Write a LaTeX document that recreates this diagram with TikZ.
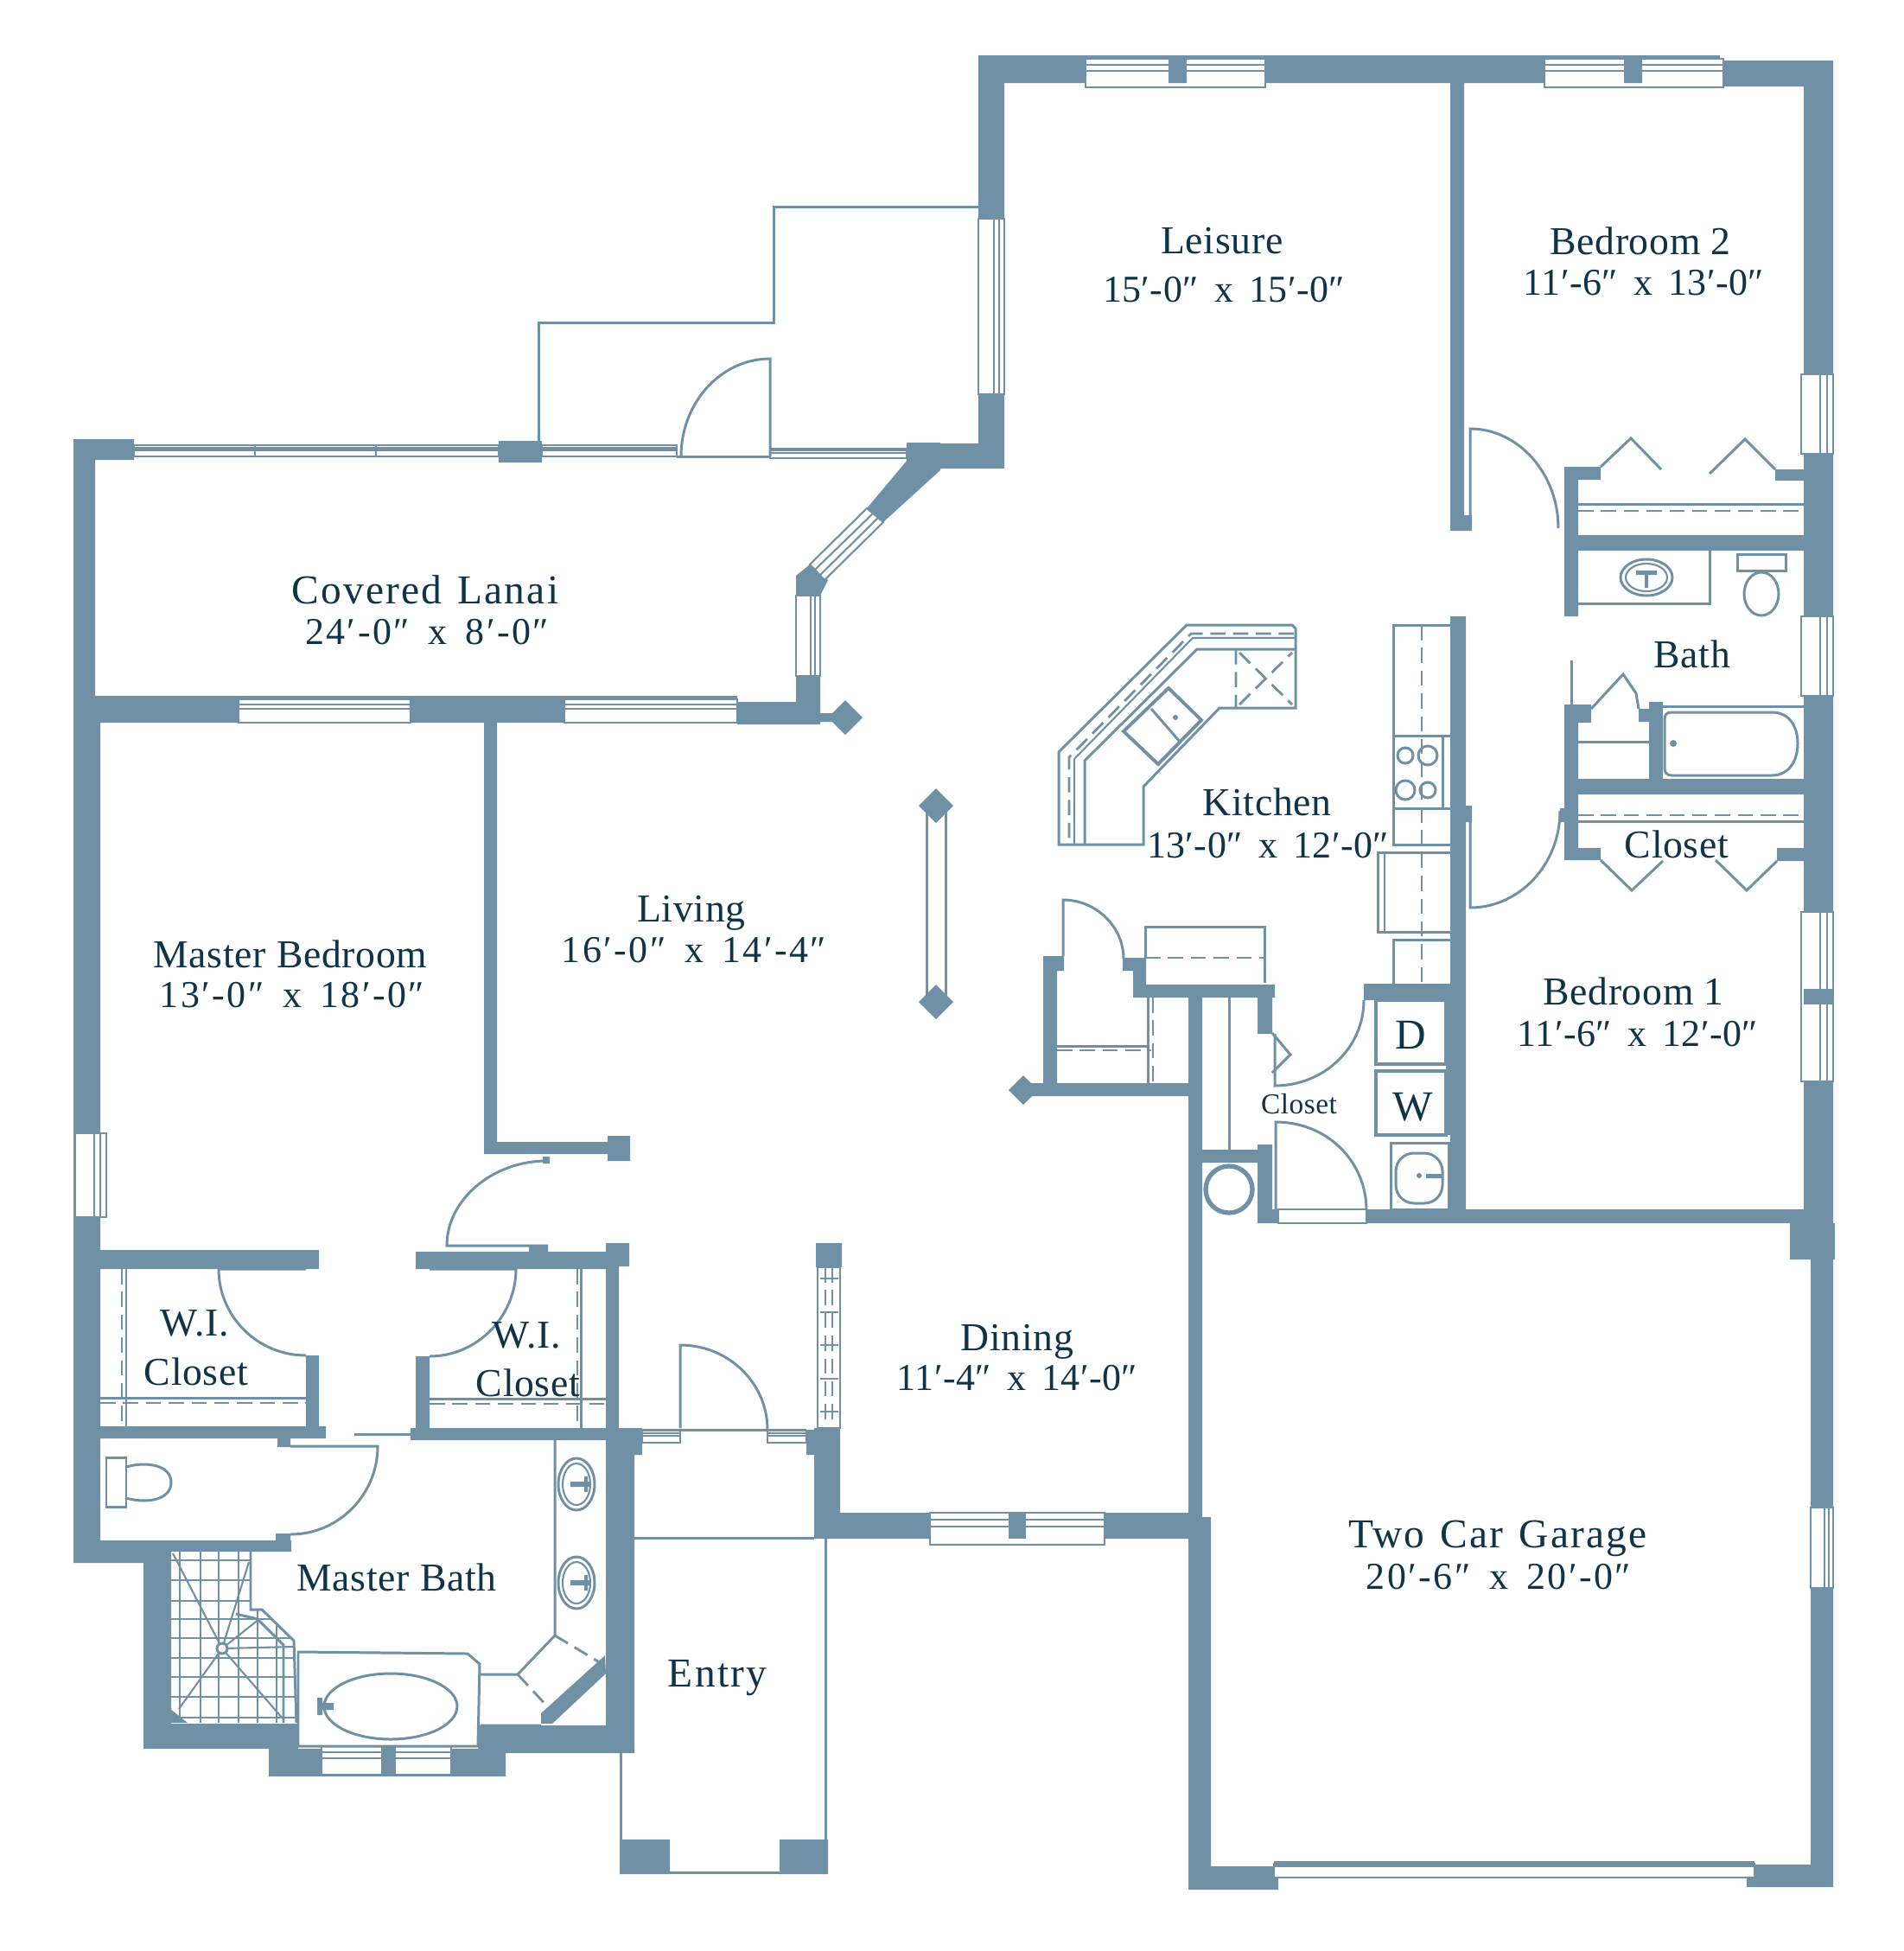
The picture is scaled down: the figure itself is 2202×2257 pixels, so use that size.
\documentclass[tikz,border=0pt]{standalone}
\usepackage{fontspec}
\usepackage{tikz}
\setmainfont{Liberation Serif}
\newfontfamily\roomfont[LetterSpace=1.5]{Liberation Serif}
\newfontfamily\widefont[LetterSpace=4.5,WordSpace=1.3]{Liberation Serif}
\newfontfamily\dimfont[LetterSpace=1,WordSpace=1.6]{Liberation Serif}
\newfontfamily\dimwidefont[LetterSpace=5.5,WordSpace=1.6]{Liberation Serif}
\definecolor{wallblue}{HTML}{7091A5}
\definecolor{textnavy}{HTML}{0F3348}
\tikzset{
  wall/.style={fill=wallblue},
  thinline/.style={draw=wallblue,line width=0.85pt},
  hairline/.style={draw=wallblue,line width=0.6pt},
  dashline/.style={draw=wallblue,line width=0.8pt,dash pattern=on 5pt off 2.5pt},
  winline/.style={draw=wallblue,line width=0.6pt,fill=white},
  roomlabel/.style={text=textnavy,inner sep=0pt,font=\fontsize{13}{15}\roomfont},
  widelabel/.style={text=textnavy,inner sep=0pt,font=\fontsize{13.5}{15}\widefont},
  dimlabel/.style={text=textnavy,inner sep=0pt,font=\fontsize{12.5}{15}\dimfont},
  dimwide/.style={text=textnavy,inner sep=0pt,font=\fontsize{12.5}{15}\dimwidefont}
}
\newcommand{\winh}[4]{\draw[winline] (#1,#3) rectangle (#2,#4);
  \draw[hairline] (#1,{#3+0.22*(#4-#3)}) -- (#2,{#3+0.22*(#4-#3)});
  \draw[hairline] (#1,{#3+0.42*(#4-#3)}) -- (#2,{#3+0.42*(#4-#3)});}
\newcommand{\winv}[4]{\draw[winline] (#1,#3) rectangle (#2,#4);
  \draw[hairline] ({#1+0.6*(#2-#1)},#3) -- ({#1+0.6*(#2-#1)},#4);
  \draw[hairline] ({#1+0.8*(#2-#1)},#3) -- ({#1+0.8*(#2-#1)},#4);}
\newcommand{\postmark}[3]{\fill[wall] (#1,#2) ++(-#3,0) -- ++(#3,-#3) -- ++(#3,#3) -- ++(-#3,#3) -- cycle;}

\begin{document}
\begin{tikzpicture}[x=0.01cm,y=-0.01cm]
  \useasboundingbox[fill=white] (0,0) rectangle (2202,2257);

  \fill[wall] (1132,64) rectangle (1990,96) (1990,70) rectangle (2121,100)
    (1132,64) rectangle (1162,542) (1049,513) rectangle (1162,542)
    (2087,70) rectangle (2121,1422) (2071,1415) rectangle (2123,1457)
    (2095,1457) rectangle (2121,2183) (2021,2157) rectangle (2121,2183)
    (1375,2159) rectangle (1479,2186) (1375,1755) rectangle (1401,2186)
    (1678,96) rectangle (1694,614) (1694,596) rectangle (1703,614)
    (1810,540) rectangle (1826,713) (1810,540) rectangle (1852,555)
    (2054,543) rectangle (2087,556) (1810,619) rectangle (2087,637)
    (1810,815) rectangle (1826,994) (1810,815) rectangle (1841,836)
    (1896,820) rectangle (1908,835) (1908,812) rectangle (1924,902)
    (1810,901) rectangle (2087,919) (1810,981) rectangle (1852,995)
    (2056,981) rectangle (2087,996) (1805,935) rectangle (1826,951)
    (1678,713) rectangle (1696,1400) (1673,1157) rectangle (1696,1313)
    (1694,932) rectangle (1703,951)
    (1455,1399) rectangle (2121,1415) (1578,1138) rectangle (1696,1157)
    (1311,1139) rectangle (1475,1154) (1455,1139) rectangle (1472,1196)
    (1375,1154) rectangle (1391,1755) (1391,1330) rectangle (1472,1345)
    (1455,1324) rectangle (1472,1415)
    (1207,1106) rectangle (1223,1254) (1207,1106) rectangle (1231,1123)
    (1299,1108) rectangle (1326,1123) (1311,1123) rectangle (1326,1154)
    (1184,1253) rectangle (1375,1268)
    (942,1750) rectangle (1391,1780) (942,1652) rectangle (972,1780)
    (944,1438) rectangle (974,1466)
    (85,508) rectangle (155,532) (85,508) rectangle (110,805)
    (85,805) rectangle (116,1808) (577,510) rectangle (627,535)
    (1049,512) rectangle (1088,544)
    (85,805) rectangle (853,836) (853,812) rectangle (949,838)
    (921,782) rectangle (949,838) (949,825) rectangle (968,835)
    (560,836) rectangle (575,1335) (560,1321) rectangle (705,1335)
    (703,1314) rectangle (729,1343) (628,1338) rectangle (636,1346)
    (116,1446) rectangle (369,1468) (354,1568) rectangle (369,1650)
    (116,1650) rectangle (377,1664) (321,1664) rectangle (336,1674)
    (319,1774) rectangle (336,1795) (86,1782) rectangle (337,1795)
    (86,1782) rectangle (166,1808)
    (166,1795) rectangle (198,2023) (166,1994) rectangle (345,2023)
    (311,2023) rectangle (585,2055) (553,1996) rectangle (734,2028)
    (701,1652) rectangle (734,2028) (701,1464) rectangle (716,1653)
    (701,1438) rectangle (728,1465) (475,1652) rectangle (743,1666)
    (716,1652) rectangle (743,1683) (481,1569) rectangle (497,1652)
    (481,1448) rectangle (703,1468) (612,1441) rectangle (634,1450)
    (933,1654) rectangle (972,1683)
    (717,2128) rectangle (775,2168) (902,2128) rectangle (958,2168);
  \fill[wall] (1050,532) -- (1088,544) -- (1022,604) -- (1003,588) -- cycle;
  \fill[wall] (937,653) -- (958,671) -- (949,689) -- (921,689) -- (921,666) -- cycle;
  \fill[wall] (626,1982) -- (700,1915) -- (701,1936) -- (639,1994) -- (626,1994) -- cycle;
  \postmark{978}{830}{20}
  \draw[thinline] (1072,940) rectangle (1094,1150);
  \postmark{1083}{932}{20}
  \postmark{1083}{1159}{20}
  \postmark{1184}{1261}{17}

  \winh{1256}{1464}{68}{101}
  \winh{1787}{1994}{68}{101}
  \fill[wall] (1352,65) rectangle (1373,96) (1879,65) rectangle (1900,96);
  \winv{1132}{1162}{253}{456}
  \winv{2084}{2121}{433}{525}
  \winv{2084}{2121}{713}{805}
  \winv{2084}{2121}{1055}{1251}
  \fill[wall] (2087,1144) rectangle (2121,1162);
  \winv{2095}{2121}{1744}{1837}
  \winv{87}{123}{1311}{1408}
  \winh{155}{577}{515}{528}
  \draw[hairline] (295,515) -- (295,528) (435,515) -- (435,528);
  \winh{627}{783}{515}{528}
  \winh{891}{1049}{519}{530}
  \draw[winline] (1003,588) -- (1022,604) -- (954,671) -- (937,653) -- cycle;
  \draw[hairline] (1010,594) -- (943,659) (1016,599) -- (949,665);
  \winv{921}{949}{689}{782}
  \winh{276}{475}{809}{836}
  \winh{653}{853}{809}{836}
  \winh{372}{522}{2020}{2053}
  \fill[wall] (441,2020) rectangle (458,2055);
  \winh{743}{787}{1655}{1669}
  \winh{888}{933}{1655}{1669}
  \winh{1076}{1278}{1750}{1787}
  \fill[wall] (1167,1750) rectangle (1187,1780);
  \draw[winline] (1474,2156) rectangle (2030,2172);
  \fill[wall] (1474,2153) rectangle (2030,2160);
  \draw[winline] (1479,1399) rectangle (1581,1415);

  \draw[thinline] (623,510) -- (623,373) -- (895,373) -- (895,239) -- (1132,239);
  \draw[thinline] (783,528) -- (891,528);
  \draw[thinline] (891,528) -- (891,415) .. controls (834,415) and (788,466) .. (788,528);
  \draw[thinline] (1701,596) -- (1701,496) .. controls (1757,496) and (1803,548) .. (1803,611);
  \draw[thinline] (1701,951) -- (1701,1050) .. controls (1758,1050) and (1805,1000) .. (1805,938);
  \draw[thinline] (634,1441) -- (517,1441) .. controls (517,1387) and (571,1343) .. (632,1343);
  \draw[thinline] (354,1468) -- (253,1468) .. controls (253,1523) and (298,1568) .. (354,1568);
  \draw[thinline] (497,1468) -- (597,1468) .. controls (597,1523) and (552,1569) .. (497,1569);
  \draw[thinline] (336,1673) -- (437,1673) .. controls (437,1729) and (392,1775) .. (336,1775);
  \draw[thinline] (787,1652) -- (787,1556) .. controls (843,1556) and (888,1600) .. (888,1654);
  \draw[thinline] (743,1654) -- (933,1654);
  \draw[thinline] (1230,1106) -- (1230,1041) .. controls (1268,1041) and (1300,1072) .. (1300,1109);
  \draw[thinline] (1475,1196) -- (1475,1256) .. controls (1532,1256) and (1578,1212) .. (1578,1157);
  \draw[thinline] (1476,1402) -- (1476,1298) .. controls (1536,1298) and (1581,1344) .. (1581,1400);
  \draw[thinline] (1472,1195) -- (1493,1220) -- (1472,1241);
  \draw[thinline] (410,1659) -- (475,1659);

  \draw[thinline] (1852,540) -- (1887,507) -- (1922,543);
  \draw[thinline] (1978,548) -- (2019,508) -- (2054,543);
  \draw[thinline] (1852,995) -- (1888,1030) -- (1924,996);
  \draw[thinline] (1985,995) -- (2021,1030) -- (2056,996);
  \draw[thinline] (1841,820) -- (1878,780) -- (1893,802) -- (1896,820);
  \draw[thinline] (1818,764) -- (1818,815);
  \draw[thinline] (1826,583) -- (2087,583);
  \draw[dashline] (1826,591) -- (2087,591);
  \draw[thinline] (1826,950) -- (2087,950);
  \draw[dashline] (1826,943) -- (2087,943);
  \draw[thinline] (1826,858) -- (1908,858);

  \draw[thinline] (1826,698) -- (1978,698) -- (1978,637);
  \draw[thinline] (1905,668) ellipse [x radius=30,y radius=21];
  \draw[hairline] (1905,668) ellipse [x radius=24,y radius=16];
  \fill[wall] (1893,660) rectangle (1917,665) (1903,660) rectangle (1907,680);
  \draw[thinline] (2010,641) rectangle (2066,660);
  \draw[thinline] (2038,687) ellipse [x radius=20,y radius=25];
  \draw[thinline] (1924,817) -- (2087,817) (1924,902) -- (2087,902);
  \draw[thinline] (1934,824) -- (2050,824) .. controls (2070,824) and (2080,840) .. (2080,860)
    .. controls (2080,880) and (2070,897) .. (2050,897) -- (1934,897)
    .. controls (1928,897) and (1926,893) .. (1926,889) -- (1926,832)
    .. controls (1926,827) and (1928,824) .. (1934,824) -- cycle;
  \fill[wall] (1936,860) circle (4);

  \draw[thinline] (1678,723) -- (1612,723) -- (1612,977) -- (1678,977);
  \draw[thinline] (1612,851) -- (1678,851) (1612,935) -- (1678,935) (1669,851) -- (1669,935);
  \draw[thinline] (1626,874) circle (9) (1652,874) circle (11) (1626,914) circle (11) (1652,914) circle (9);
  \draw[thinline,fill=white] (1678,986) -- (1594,986) -- (1594,1078) -- (1678,1078);
  \draw[hairline] (1602,986) -- (1602,1078);
  \draw[thinline] (1678,1087) -- (1612,1087) -- (1612,1139);
  \draw[dashline] (1645,723) -- (1645,1139);

  \draw[line width=1.1pt,draw=wallblue] (1592,1157) rectangle (1673,1231) (1592,1239) rectangle (1673,1313);
  \draw[thinline] (1609,1322) rectangle (1676,1399);
  \draw[thinline,rounded corners=6] (1615,1334) rectangle (1669,1392);
  \fill[wall] (1650,1358) rectangle (1668,1363) (1642,1360) circle (3);
  \draw[line width=1.5pt,draw=wallblue] (1422,1376) circle (27);
  \draw[thinline] (1422,1154) -- (1422,1330);

  \draw[thinline] (1325,1108) -- (1325,1072) -- (1463,1072) -- (1463,1137);
  \draw[dashline] (1325,1108) -- (1463,1108);
  \draw[thinline] (1223,1210) -- (1328,1210) (1328,1154) -- (1328,1253);
  \draw[dashline] (1223,1215) -- (1332,1215) (1334,1154) -- (1334,1253);

  \draw[thinline] (1373,723) -- (1495,723) -- (1499,727) -- (1499,819) -- (1411,819)
    -- (1323,910) -- (1323,977) -- (1225,977) -- (1225,870) -- cycle;
  \draw[thinline] (1499,751) -- (1385,751) -- (1255,880) -- (1255,977);
  \draw[dashline] (1497,733) -- (1378,733) -- (1237,876) -- (1237,977);
  \draw[hairline] (1499,738) -- (1380,738) -- (1243,878) -- (1243,977);
  \draw[dashline] (1430,751) -- (1430,819) (1434,815) -- (1495,755) (1434,755) -- (1495,815);
  \draw[line width=1.1pt,draw=wallblue] (1352,796) -- (1390,833) -- (1340,884) -- (1300,846) -- cycle;
  \draw[thinline] (1332,820) -- (1366,859);
  \fill[wall] (1360,830) circle (3);

  \draw[thinline] (123,1686) rectangle (146,1743);
  \draw[thinline] (146,1697) .. controls (170,1690) and (198,1695) .. (198,1715)
    .. controls (198,1735) and (170,1740) .. (146,1733);
  \draw[thinline] (642,1666) -- (642,1892) -- (599,1937) -- (556,1937) (556,1996) -- (626,1996);
  \draw[dashline] (642,1892) -- (697,1925) (599,1937) -- (636,1977);
  \draw[thinline] (667,1717) ellipse [x radius=21,y radius=30] (667,1831) ellipse [x radius=21,y radius=30];
  \draw[hairline] (667,1717) ellipse [x radius=16,y radius=24] (667,1831) ellipse [x radius=16,y radius=24];
  \fill[wall] (660,1714) rectangle (682,1720) (676,1708) rectangle (680,1726)
    (660,1828) rectangle (682,1834) (676,1822) rectangle (680,1840);
  \draw[thinline] (345,1911) -- (541,1913) -- (555,1925) -- (553,2020) -- (345,2020) -- cycle;
  \draw[thinline] (452,1974) ellipse [x radius=77,y radius=38];
  \fill[wall] (367,1970) rectangle (386,1978) (367,1964) rectangle (373,1984);

  \begin{scope}
    \clip (197,1795) -- (290,1795) -- (290,1862) -- (303,1862) -- (340,1898) -- (343,1993) -- (197,1993) -- cycle;
    \foreach \tilex in {208,232,253,276,298,320}
      \draw[hairline] (\tilex,1795) -- (\tilex,1993);
    \foreach \tiley in {1805,1828,1852,1873,1895,1918,1940,1963,1987}
      \draw[hairline] (197,\tiley) -- (343,\tiley);
    \draw[hairline] (200,1797) -- (257,1907) (288,1807) -- (270,1865) -- (257,1907) (207,1977) -- (257,1907)
      (327,1988) -- (257,1907) (300,1873) -- (257,1907) (340,1905) -- (257,1907);
  \end{scope}
  \draw[thinline] (290,1795) -- (290,1862) -- (303,1862) -- (340,1898) -- (343,1993);
  \draw[thinline] (273,1867) -- (298,1873) -- (328,1903) -- (328,1993);
  \draw[thinline,fill=white] (257,1907) circle (6);
  \fill[wall] (197,1977) -- (217,1993) -- (197,1993) -- cycle;

  \draw[thinline] (146,1468) -- (146,1650) (116,1617) -- (354,1617);
  \draw[dashline] (141,1468) -- (141,1650) (116,1623) -- (354,1623);
  \draw[thinline] (672,1468) -- (672,1652) (497,1618) -- (701,1618);
  \draw[dashline] (668,1468) -- (668,1652) (497,1624) -- (701,1624);

  \draw[winline] (946,1466) rectangle (972,1652);
  \draw[dashline] (955,1466) -- (955,1652) (963,1466) -- (963,1652);
  \draw[hairline] (949,1479) -- (970,1479) (949,1518) -- (970,1518) (949,1556) -- (970,1556) (949,1595) -- (970,1595) (949,1633) -- (970,1633);

  \draw[thinline] (732,1779) -- (942,1779);
  \draw[thinline] (955,1780) -- (955,2130) (718,2028) -- (718,2130) (775,2166) -- (902,2166);

  \node[roomlabel] (leisure) at (1414,279) {Leisure};
  \node[dimlabel] (leisuredim) at (1416,335) {15′-0″ x 15′-0″};
  \node[roomlabel] (bedtwo) at (1898,279) {Bedroom 2};
  \node[dimlabel] (bedtwodim) at (1902,327) {11′-6″ x 13′-0″};
  \node[widelabel] (lanai) at (492,682) {Covered Lanai};
  \node[dimwide] (lanaidim) at (494,731) {24′-0″ x 8′-0″};
  \node[roomlabel] (kitchen) at (1466,928) {Kitchen};
  \node[dimlabel] (kitchendim) at (1467,978) {13′-0″ x 12′-0″};
  \node[roomlabel] (bath) at (1958,757) {Bath};
  \node[roomlabel] (closetone) at (1940,977) {Closet};
  \node[roomlabel] (bedone) at (1890,1147) {Bedroom 1};
  \node[dimlabel] (bedonedim) at (1895,1196) {11′-6″ x 12′-0″};
  \node[roomlabel] (living) at (800,1056) {Living};
  \node[dimwide] (livingdim) at (803,1099) {16′-0″ x 14′-4″};
  \node[roomlabel] (master) at (336,1104) {Master Bedroom};
  \node[dimwide] (masterdim) at (338,1151) {13′-0″ x 18′-0″};
  \node[roomlabel,font=\fontsize{14}{15}\roomfont] (dryer) at (1632,1197) {D};
  \node[roomlabel,font=\fontsize{14}{15}\roomfont] (washer) at (1635,1281) {W};
  \node[roomlabel,font=\fontsize{9.5}{11}\roomfont] (closettwo) at (1503,1277) {Closet};
  \node[roomlabel] (wileft) at (225,1531) {W.I.};
  \node[roomlabel] (closetleft) at (227,1587) {Closet};
  \node[roomlabel] (wiright) at (609,1545) {W.I.};
  \node[roomlabel] (closetright) at (611,1600) {Closet};
  \node[roomlabel] (dining) at (1177,1552) {Dining};
  \node[dimlabel] (diningdim) at (1177,1594) {11′-4″ x 14′-0″};
  \node[roomlabel] (masterbath) at (459,1825) {Master Bath};
  \node[widelabel] (entry) at (830,1941) {Entry};
  \node[widelabel] (garage) at (1733,1780) {Two Car Garage};
  \node[dimwide] (garagedim) at (1734,1824) {20′-6″ x 20′-0″};
\end{tikzpicture}
\end{document}
